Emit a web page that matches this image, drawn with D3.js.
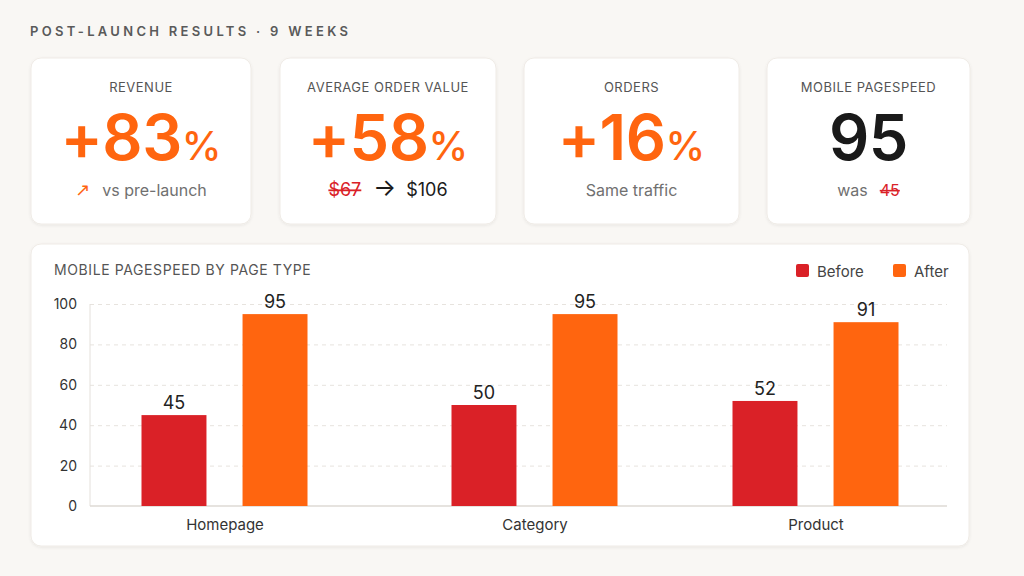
<!DOCTYPE html>
<html lang="en">
<head>
<meta charset="UTF-8">
<title>Post-launch results</title>
<style>
  html, body { margin: 0; padding: 0; background: #f9f7f4; }
  svg { display: block; font-family: Inter, "Noto Sans", sans-serif; }
</style>
</head>
<body>
<div id="chart"></div>
<script src="https://cdn.jsdelivr.net/npm/d3@7"></script>
<script>
// ---- data ----
var headline = "POST-LAUNCH RESULTS · 9 WEEKS";
var kpiLabels = ["REVENUE", "AVERAGE ORDER VALUE", "ORDERS", "MOBILE PAGESPEED"];
var kpiValues = ["+83", "+58", "+16", "95"];
var kpiUnits = ["%", "%", "%", ""];
var aovBefore = "$67", aovAfter = "$106";
var speedBefore = "45";

var chartTitle = "MOBILE PAGESPEED BY PAGE TYPE";
var pageTypes = ["Homepage", "Category", "Product"];
var series = ["Before", "After"];
var beforeScores = [45, 50, 52];
var afterScores = [95, 95, 91];
var yTicks = [0, 20, 40, 60, 80, 100];

var orange = "#ff650f", red = "#da2127";

var W = 1024, H = 576;
var svg = d3.select("#chart").append("svg")
    .attr("width", W)
    .attr("height", H);

var defs = svg.append("defs");
var f = defs.append("filter").attr("id", "shadow")
    .attr("x", "-10%").attr("y", "-10%").attr("width", "120%").attr("height", "130%");
f.append("feDropShadow").attr("dx", 0).attr("dy", 1).attr("stdDeviation", 1.6)
    .attr("flood-color", "#000").attr("flood-opacity", 0.07);

svg.append("text")
    .attr("x", 30).attr("y", 36)
    .attr("fill", "#5a5a5a")
    .attr("font-size", 13).attr("font-weight", 600)
    .attr("letter-spacing", 3.3)
    .text(headline);

// ---- KPI cards ----
var cardX = [31, 280, 524, 767];
var cardW = [220, 216, 215, 203];
var cardTop = 58, cardH = 166;

var cards = svg.selectAll(".card")
    .data(kpiLabels)
    .enter().append("g")
    .attr("class", "card")
    .attr("transform", function(d, i) { return "translate(" + cardX[i] + "," + cardTop + ")"; });

cards.append("rect")
    .attr("width", function(d, i) { return cardW[i]; })
    .attr("height", cardH)
    .attr("rx", 10)
    .attr("fill", "#fff")
    .attr("stroke", "#efebe6")
    .attr("filter", "url(#shadow)");

cards.append("text")
    .attr("x", function(d, i) { return cardW[i] / 2; })
    .attr("y", 34)
    .attr("text-anchor", "middle")
    .attr("fill", "#555")
    .attr("font-size", 13)
    .attr("letter-spacing", 0.5)
    .text(function(d) { return d; });

var big = cards.append("text")
    .attr("x", function(d, i) { return cardW[i] / 2; })
    .attr("y", 102)
    .attr("text-anchor", "middle")
    .attr("fill", function(d, i) { return kpiUnits[i] ? orange : "#1a1a1a"; });
big.append("tspan")
    .attr("font-size", 63).attr("font-weight", 600)
    .attr("letter-spacing", -0.5)
    .text(function(d, i) { return kpiValues[i]; });
big.append("tspan")
    .attr("font-size", 40).attr("font-weight", 500)
    .text(function(d, i) { return kpiUnits[i]; });

// sub-lines
var sub = cards.append("text")
    .attr("x", function(d, i) { return cardW[i] / 2; })
    .attr("y", 138)
    .attr("text-anchor", "middle")
    .attr("font-size", 16)
    .attr("fill", "#707070");

sub.each(function(d, i) {
  var t = d3.select(this);
  if (i === 0) {
    t.append("tspan").attr("fill", orange).attr("font-size", 18)
        .attr("font-family", "DejaVu Sans, sans-serif").text("↗");
    t.append("tspan").attr("dx", 12).text("vs pre-launch");
  } else if (i === 1) {
    t.attr("font-size", 18);
    t.append("tspan").attr("fill", red).attr("text-decoration", "line-through").text(aovBefore);
    t.append("tspan").attr("dx", 12).attr("fill", "#1a1a1a").attr("font-size", 24).text("→");
    t.append("tspan").attr("dx", 10).attr("fill", "#1a1a1a").text(aovAfter);
  } else if (i === 2) {
    t.text("Same traffic");
  } else {
    t.append("tspan").text("was");
    t.append("tspan").attr("dx", 12).attr("fill", red).attr("text-decoration", "line-through").text(speedBefore);
  }
});

// ---- bar chart card ----
svg.append("rect")
    .attr("x", 31).attr("y", 244)
    .attr("width", 938).attr("height", 302)
    .attr("rx", 10)
    .attr("fill", "#fff")
    .attr("stroke", "#efebe6")
    .attr("filter", "url(#shadow)");

svg.append("text")
    .attr("x", 54).attr("y", 275)
    .attr("fill", "#555")
    .attr("font-size", 14)
    .attr("letter-spacing", 0.6)
    .text(chartTitle);

var plotLeft = 90, plotRight = 947;

var y = d3.scaleLinear().domain([0, 100]).range([506, 304]);

var x = d3.scaleOrdinal()
    .domain(pageTypes)
    .range([224.5, 534.5, 815.5]);

var xs = d3.scaleBand()
    .domain(series)
    .range([-83, 83])
    .paddingInner(0.357);

var color = d3.scaleOrdinal().domain(series).range([red, orange]);

// grid + y axis labels
var yAxis = d3.axisLeft(y)
    .tickValues(yTicks)
    .tickSize(-(plotRight - plotLeft))
    .tickPadding(13);

var gy = svg.append("g")
    .attr("transform", "translate(" + plotLeft + ",0)")
    .call(yAxis);
gy.select(".domain").remove();
gy.selectAll(".tick line")
    .attr("stroke", "#e7e3de")
    .attr("stroke-dasharray", "4,4")
    .attr("stroke-opacity", function(d) { return d === 0 ? 0 : 1; });
gy.selectAll(".tick text")
    .attr("fill", "#333")
    .attr("font-size", 14)
    .attr("font-family", "Inter, sans-serif");

// axis lines
svg.append("line")
    .attr("x1", plotLeft).attr("x2", plotLeft)
    .attr("y1", y(100)).attr("y2", y(0))
    .attr("stroke", "#e4e0db");
svg.append("line")
    .attr("x1", plotLeft).attr("x2", plotRight)
    .attr("y1", y(0)).attr("y2", y(0))
    .attr("stroke", "#dedad5").attr("stroke-width", 1.5);

// bars
var rows = pageTypes.map(function(p, i) {
  return [
    { page: p, key: "Before", value: beforeScores[i] },
    { page: p, key: "After", value: afterScores[i] }
  ];
});

var groups = svg.selectAll(".group")
    .data(rows)
    .enter().append("g")
    .attr("class", "group")
    .attr("transform", function(d) { return "translate(" + x(d[0].page) + ",0)"; });

groups.selectAll("rect")
    .data(function(d) { return d; })
    .enter().append("rect")
    .attr("x", function(d) { return xs(d.key); })
    .attr("y", function(d) { return y(d.value); })
    .attr("width", xs.bandwidth())
    .attr("height", function(d) { return y(0) - y(d.value); })
    .attr("fill", function(d) { return color(d.key); });

groups.selectAll(".val")
    .data(function(d) { return d; })
    .enter().append("text")
    .attr("class", "val")
    .attr("x", function(d) { return xs(d.key) + xs.bandwidth() / 2; })
    .attr("y", function(d) { return y(d.value) - 6; })
    .attr("text-anchor", "middle")
    .attr("fill", "#222")
    .attr("font-size", 18)
    .text(function(d) { return d.value; });

// x labels
var xAxis = d3.axisBottom(x).tickSize(0).tickPadding(13);
var gx = svg.append("g")
    .attr("transform", "translate(0," + y(0) + ")")
    .call(xAxis);
gx.select(".domain").remove();
gx.selectAll(".tick text")
    .attr("fill", "#333")
    .attr("font-size", 15)
    .attr("font-family", "Inter, sans-serif");

// legend
var legend = svg.selectAll(".legend")
    .data(series)
    .enter().append("g")
    .attr("class", "legend")
    .attr("transform", function(d, i) { return "translate(" + (796 + i * 97) + ",264)"; });
legend.append("rect")
    .attr("width", 13).attr("height", 13).attr("rx", 2)
    .attr("fill", function(d) { return color(d); });
legend.append("text")
    .attr("x", 21).attr("y", 12.5)
    .attr("fill", "#444")
    .attr("font-size", 15)
    .text(function(d) { return d; });
</script>
</body>
</html>
